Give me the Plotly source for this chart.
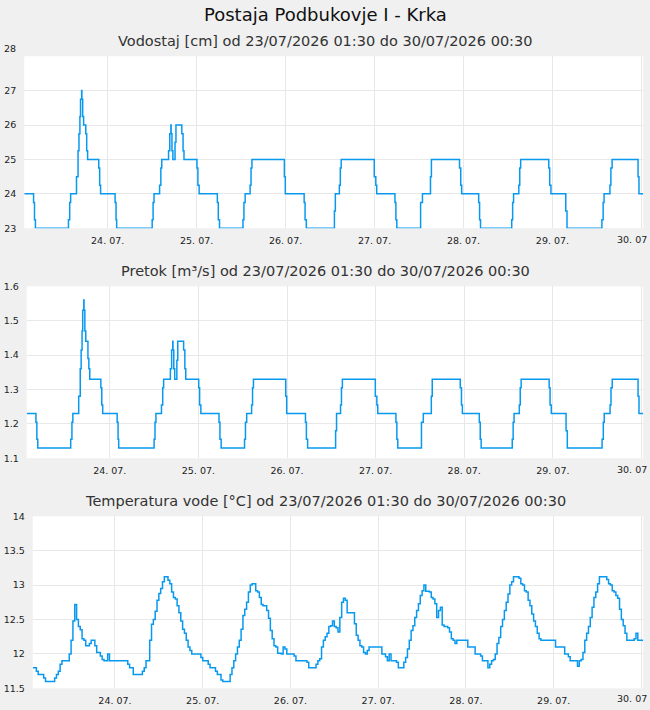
import pandas as pd
import plotly.graph_objects as go

# ---------------- data ----------------
title_main = "Postaja Podbukovje I - Krka"
sub_titles = [
    "Vodostaj [cm] od 23/07/2026 01:30 do 30/07/2026 00:30",
    "Pretok [m³/s] od 23/07/2026 01:30 do 30/07/2026 00:30",
    "Temperatura vode [°C] od 23/07/2026 01:30 do 30/07/2026 00:30",
]
x_start = "2026-07-23 01:30"
x_end = "2026-07-30 00:30"
last_tick_label = "30. 07"   # shown cut by the right page edge in the reference

# change points (step series) for water level and discharge
level_times = [
    "2026-07-23 01:30", "2026-07-23 04:00", "2026-07-23 04:15", "2026-07-23 04:30",
    "2026-07-23 13:25", "2026-07-23 13:45", "2026-07-23 14:00", "2026-07-23 15:35",
    "2026-07-23 16:00", "2026-07-23 16:15", "2026-07-23 16:30", "2026-07-23 16:40",
    "2026-07-23 16:58", "2026-07-23 17:02", "2026-07-23 17:15", "2026-07-23 17:30",
    "2026-07-23 18:05", "2026-07-23 18:20", "2026-07-23 18:35", "2026-07-23 21:35",
    "2026-07-23 21:50", "2026-07-23 22:05",
    "2026-07-24 02:00", "2026-07-24 02:15", "2026-07-24 02:25", "2026-07-24 12:00",
    "2026-07-24 12:15", "2026-07-24 12:30", "2026-07-24 14:00", "2026-07-24 14:20",
    "2026-07-24 14:35", "2026-07-24 16:25", "2026-07-24 16:45", "2026-07-24 17:03",
    "2026-07-24 17:07", "2026-07-24 17:20", "2026-07-24 17:35", "2026-07-24 18:10",
    "2026-07-24 18:25", "2026-07-24 20:00", "2026-07-24 20:20", "2026-07-24 20:35",
    "2026-07-25 00:05", "2026-07-25 00:20", "2026-07-25 00:40", "2026-07-25 05:35",
    "2026-07-25 05:50", "2026-07-25 06:10", "2026-07-25 12:30", "2026-07-25 12:45",
    "2026-07-25 13:05", "2026-07-25 14:25", "2026-07-25 14:40", "2026-07-25 14:55",
    "2026-07-25 23:40", "2026-07-25 23:55",
    "2026-07-26 05:00", "2026-07-26 05:15", "2026-07-26 05:35", "2026-07-26 13:10",
    "2026-07-26 13:25", "2026-07-26 14:30", "2026-07-26 14:45", "2026-07-26 15:00",
    "2026-07-26 23:55",
    "2026-07-27 00:20", "2026-07-27 00:35", "2026-07-27 05:30", "2026-07-27 05:45",
    "2026-07-27 06:00", "2026-07-27 12:25", "2026-07-27 12:55", "2026-07-27 15:05",
    "2026-07-27 15:20", "2026-07-27 22:55", "2026-07-27 23:15", "2026-07-27 23:30",
    "2026-07-28 04:05", "2026-07-28 04:20", "2026-07-28 04:35", "2026-07-28 13:00",
    "2026-07-28 13:15", "2026-07-28 13:30", "2026-07-28 14:55", "2026-07-28 15:10",
    "2026-07-28 15:25", "2026-07-28 23:00", "2026-07-28 23:15", "2026-07-28 23:35",
    "2026-07-29 03:35", "2026-07-29 03:55", "2026-07-29 13:20", "2026-07-29 13:40",
    "2026-07-29 13:55", "2026-07-29 15:30", "2026-07-29 15:45", "2026-07-29 16:05",
    "2026-07-29 23:05", "2026-07-29 23:20",
    "2026-07-30 00:30",
]
vodostaj = [
    24, 23.75, 23.25, 23,
    23.25, 23.75, 24, 24.5,
    25.25, 25.75, 26.25, 26.75,
    27, 26.75, 26.25, 26.0,
    25.75, 25.25, 25, 24.75,
    24.25, 24,
    23.75, 23.25, 23, 23.25,
    23.75, 24, 24.25, 24.75,
    25, 25.25, 25.75, 26,
    25.75, 25.25, 25, 25.5,
    26, 25.75, 25.25, 25,
    24.75, 24.25, 24, 23.75,
    23.25, 23, 23.25, 23.75,
    24, 24.25, 24.75, 25,
    24.5, 24,
    23.75, 23.25, 23, 23.5,
    24, 24.25, 24.75, 25,
    24.5,
    24.25, 24, 23.75, 23.25,
    23, 23.75, 24, 24.5,
    25, 24.75, 24.25, 24,
    23.75, 23.25, 23, 23.25,
    23.75, 24, 24.25, 24.75,
    25, 24.75, 24.25, 24,
    23.5, 23, 23.25, 23.75,
    24, 24.25, 24.75, 25,
    24.5, 24,
    24,
]
pretok = [
    1.23, 1.205, 1.155, 1.13,
    1.155, 1.205, 1.23, 1.28,
    1.36, 1.415, 1.47, 1.53,
    1.56, 1.53, 1.47, 1.44,
    1.39, 1.36, 1.33, 1.305,
    1.255, 1.23,
    1.205, 1.155, 1.13, 1.155,
    1.205, 1.23, 1.255, 1.305,
    1.33, 1.36, 1.415, 1.44,
    1.415, 1.36, 1.33, 1.385,
    1.44, 1.415, 1.36, 1.33,
    1.305, 1.255, 1.23, 1.205,
    1.155, 1.13, 1.155, 1.205,
    1.23, 1.255, 1.305, 1.33,
    1.28, 1.23,
    1.205, 1.155, 1.13, 1.18,
    1.23, 1.255, 1.305, 1.33,
    1.28,
    1.255, 1.23, 1.205, 1.155,
    1.13, 1.205, 1.23, 1.28,
    1.33, 1.305, 1.255, 1.23,
    1.205, 1.155, 1.13, 1.155,
    1.205, 1.23, 1.255, 1.305,
    1.33, 1.305, 1.255, 1.23,
    1.18, 1.13, 1.155, 1.205,
    1.23, 1.255, 1.305, 1.33,
    1.28, 1.23,
    1.23,
]

# water temperature, half-hourly from 23/07 01:30 to 30/07 00:30
temperatura = [
    # 23.07. 01:30 - 23:30
    11.8, 11.8, 11.75, 11.7, 11.7, 11.7, 11.65, 11.6, 11.6, 11.6,
    11.6, 11.6, 11.65, 11.7, 11.75, 11.85, 11.9, 11.9, 11.9, 11.9,
    12.0, 12.2, 12.48, 12.72, 12.5, 12.4, 12.35, 12.22, 12.2, 12.12,
    12.12, 12.15, 12.2, 12.2, 12.12, 12.02, 12.02, 11.97, 11.92, 11.9,
    11.9, 12.0, 11.9, 11.9, 11.9,
    # 24.07.
    11.9, 11.9, 11.9, 11.9, 11.9, 11.9, 11.9, 11.85, 11.8, 11.8,
    11.7, 11.7, 11.7, 11.7, 11.7, 11.75, 11.8, 11.9, 11.9, 12.2,
    12.43, 12.5, 12.62, 12.78, 12.88, 12.95, 13.05, 13.12, 13.12, 13.07,
    13.02, 12.9, 12.82, 12.8, 12.7, 12.6, 12.48, 12.36, 12.3, 12.2,
    12.1, 12.05, 12.0, 12.0, 12.0, 12.0, 12.0, 11.95,
    # 25.07.
    11.9, 11.9, 11.9, 11.85, 11.8, 11.8, 11.8, 11.75, 11.7, 11.7,
    11.62, 11.6, 11.6, 11.6, 11.6, 11.7, 11.8, 11.9, 12.0, 12.1,
    12.2, 12.36, 12.56, 12.65, 12.75, 12.9, 13.0, 13.02, 13.02, 12.92,
    12.9, 12.82, 12.72, 12.7, 12.7, 12.63, 12.52, 12.34, 12.22, 12.12,
    12.1, 12.01, 12.01, 12.0, 12.1, 12.07, 12.0, 12.0,
    # 26.07.
    12.0, 12.0, 11.97, 11.9, 11.9, 11.9, 11.9, 11.9, 11.9, 11.88,
    11.8, 11.8, 11.8, 11.8, 11.85, 11.9, 11.93, 12.1, 12.2, 12.25,
    12.3, 12.4, 12.41, 12.48, 12.4, 12.38, 12.32, 12.53, 12.75, 12.81,
    12.78, 12.6, 12.6, 12.6, 12.6, 12.44, 12.27, 12.2, 12.12, 12.1,
    12.02, 12.0, 12.05, 12.1, 12.1, 12.1, 12.1, 12.1,
    # 27.07.
    12.1, 12.1, 12.0, 12.0, 11.96, 11.9, 12.0, 11.9, 11.9, 11.9,
    11.88, 11.8, 11.8, 11.8, 11.88, 11.95, 12.07, 12.2, 12.34, 12.41,
    12.53, 12.63, 12.73, 12.85, 12.92, 13.0, 12.91, 12.91, 12.9, 12.82,
    12.8, 12.73, 12.53, 12.63, 12.68, 12.42, 12.4, 12.4, 12.38, 12.32,
    12.22, 12.2, 12.15, 12.2, 12.2, 12.2, 12.2, 12.2,
    # 28.07.
    12.2, 12.1, 12.1, 12.1, 12.1, 12.0, 12.0, 12.0, 11.97, 11.9,
    11.9, 11.9, 11.8, 11.85, 11.9, 11.92, 12.0, 12.15, 12.24, 12.4,
    12.5, 12.63, 12.75, 12.87, 13.0, 13.05, 13.12, 13.12, 13.12, 13.1,
    13.02, 13.0, 12.92, 12.9, 12.78, 12.7, 12.58, 12.48, 12.4, 12.3,
    12.22, 12.2, 12.2, 12.2, 12.2, 12.2, 12.2, 12.2,
    # 29.07.
    12.2, 12.1, 12.1, 12.1, 12.1, 12.1, 12.0, 12.0, 11.96, 11.9,
    11.9, 11.9, 11.9, 11.82, 11.9, 11.92, 12.02, 12.2, 12.3, 12.4,
    12.53, 12.68, 12.82, 12.9, 13.02, 13.12, 13.12, 13.12, 13.12, 13.08,
    13.02, 13.0, 12.92, 12.9, 12.85, 12.81, 12.65, 12.5, 12.41, 12.3,
    12.2, 12.2, 12.2, 12.2, 12.22, 12.3, 12.2, 12.2,
    # 30.07.
    12.2, 12.2,
]
temp_times = pd.date_range(x_start, x_end, freq="30min")

y1_ticks = [23, 24, 25, 26, 27, 28]
y2_ticks = [1.1, 1.2, 1.3, 1.4, 1.5, 1.6]
y3_ticks = [11.5, 12, 12.5, 13, 13.5, 14]
y3_text = ["11.5", "12", "12.5", "13", "13.5", "14"]

# ---------------- style ----------------
W, H = 650, 710
# measured: the photographed page maps page-y -> 5.5 + 0.9843 * page-y
Y_OFF, Y_SCALE = 5.5, 0.9843
FONT = "DejaVu Sans"
LINE = "#0799f0"
GRID = "#e8e8e8"
BG = "#f0f0f0"

def px_x(p):
    return p / W

def px_y(p):
    # p = wanted pixel row in the photographed picture
    page = (p - Y_OFF) / Y_SCALE
    return 1 - page / H

fig = go.Figure()
fig.add_trace(go.Scatter(x=pd.to_datetime(level_times), y=vodostaj, mode="lines",
                         line=dict(shape="hv", color=LINE, width=1.5),
                         xaxis="x", yaxis="y", hoverinfo="skip"))
fig.add_trace(go.Scatter(x=pd.to_datetime(level_times), y=pretok, mode="lines",
                         line=dict(shape="hv", color=LINE, width=1.5),
                         xaxis="x2", yaxis="y2", hoverinfo="skip"))
fig.add_trace(go.Scatter(x=temp_times, y=temperatura, mode="lines",
                         line=dict(shape="hv", color=LINE, width=1.5),
                         xaxis="x3", yaxis="y3", hoverinfo="skip"))

tickfont = dict(family=FONT, size=9.5, color="#222222")

def xax(left, anchor):
    return dict(domain=[px_x(left), px_x(643.3)], anchor=anchor, type="date",
                range=[x_start, x_end], tick0="2026-07-24", dtick=86400000,
                tickformat="%d. %m.", showgrid=True, gridcolor=GRID, gridwidth=1,
                zeroline=False, showline=False, ticks="outside", ticklen=3,
                tickcolor="rgba(0,0,0,0)", tickfont=tickfont, fixedrange=True)

def yax(top, bottom, rng, tv, tt, anchor):
    return dict(domain=[px_y(bottom), px_y(top)], anchor=anchor, range=rng,
                tickvals=tv, ticktext=tt, showgrid=True, gridcolor=GRID, gridwidth=1,
                zeroline=False, showline=False, ticks="outside", ticklen=5,
                tickcolor="rgba(0,0,0,0)", tickfont=tickfont, fixedrange=True)

fig.update_layout(
    width=W, height=H, margin=dict(l=0, r=0, t=0, b=0, pad=0),
    paper_bgcolor=BG, plot_bgcolor="white", showlegend=False,
    font=dict(family=FONT, color="#222222"),
    xaxis=xax(24.3, "y"),
    yaxis=yax(55.7, 227.7, [23, 28], y1_ticks, [str(v) for v in y1_ticks[:-1]] + [""], "x"),
    xaxis2=xax(26.7, "y2"),
    yaxis2=yax(285.7, 457.7, [1.1, 1.6], y2_ticks, [f"{v:.1f}" for v in y2_ticks], "x2"),
    xaxis3=xax(32.7, "y3"),
    yaxis3=yax(515.7, 687.7, [11.5, 14], y3_ticks, y3_text, "x3"),
)

ann = [
    dict(text=title_main, x=0.5, y=px_y(14), xref="paper", yref="paper",
         showarrow=False, xanchor="center", yanchor="middle",
         font=dict(family=FONT, size=18, color="#111111")),
]
for txt, yy in zip(sub_titles, [40, 270, 500]):
    ann.append(dict(text=txt, x=0.5, y=px_y(yy), xref="paper", yref="paper",
                    showarrow=False, xanchor="center", yanchor="middle",
                    font=dict(family=FONT, size=14.5, color="#333333")))
# top tick label of the first chart sits a little above its grid line
ann.append(dict(text=str(y1_ticks[-1]), x=px_x(17.5), y=px_y(47.5), xref="paper", yref="paper",
                showarrow=False, xanchor="right", yanchor="middle", font=tickfont))
# last date label, cut by the page edge
for yy in [238.5, 468.5, 697.5]:
    ann.append(dict(text=last_tick_label, x=px_x(648), y=px_y(yy), xref="paper", yref="paper",
                    showarrow=False, xanchor="right", yanchor="middle", font=tickfont,
                    borderpad=0))
fig.update_layout(annotations=ann)

fig.write_html("out.html",
               post_script="document.documentElement.style.background='#f0f0f0';"
                           "document.body.style.background='#f0f0f0';")
